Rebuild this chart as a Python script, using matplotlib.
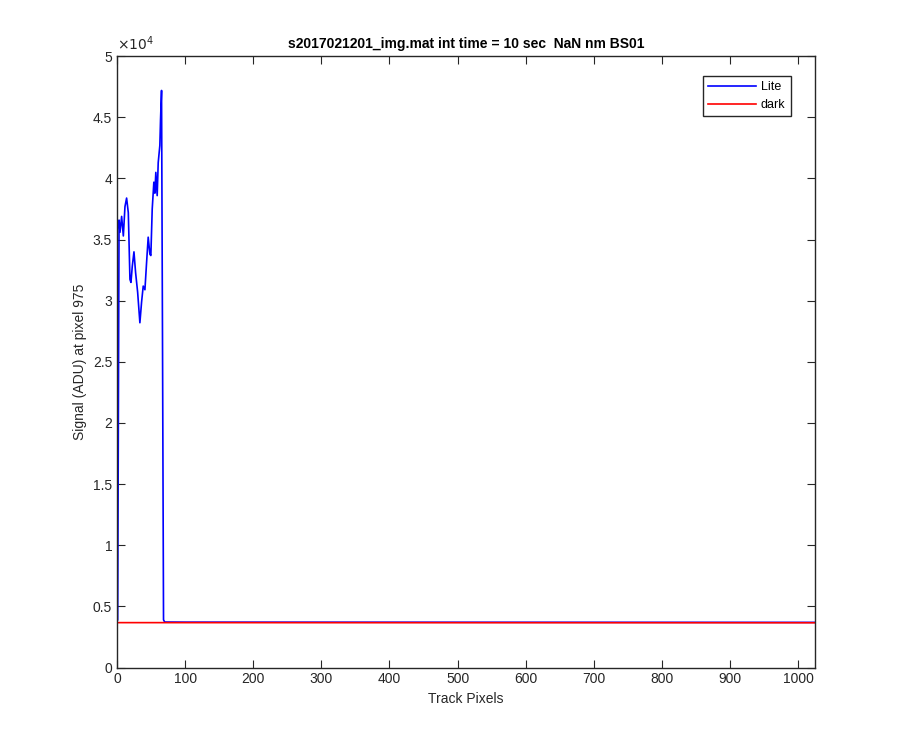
import matplotlib
matplotlib.use("Agg")
import matplotlib.pyplot as plt
from matplotlib.ticker import FuncFormatter, MultipleLocator

plt.rcParams['font.family'] = ['Liberation Sans', 'DejaVu Sans']

# Data
lite_x = [1, 3, 4.4, 6.8, 9.3, 11.7, 14.1, 16.6, 19, 20.5, 22.4, 24.9, 27.3, 30.3, 33.6,
          36.1, 38.5, 41, 43.4, 45.8, 48.3, 49.7, 51.7, 54.1, 55.6, 57, 59, 60.5, 62.9,
          63.9, 65.4, 66.8, 68.3, 70, 100, 1024]
lite_y = [3900, 36600, 35600, 36900, 35300, 37700, 38400, 37200, 31750, 31500, 32800,
          34000, 32300, 30700, 28200, 29900, 31200, 30900, 33100, 35200, 33800, 33700,
          37500, 39700, 38800, 40500, 38600, 41300, 42700, 44800, 47200, 26800, 3900,
          3720, 3710, 3690]
dark_x = [1, 1024]
dark_y = [3670, 3660]

fig = plt.figure(figsize=(9, 7.5), dpi=100)
ax = fig.add_axes([0.13, 0.11, 0.775, 0.815])
ax.plot(lite_x, lite_y, color='#0000ff', lw=1.2, label='Lite')
ax.plot(dark_x, dark_y, color='#ff0000', lw=1.2, label='dark')

ax.set_xlim(0, 1024)
ax.set_ylim(0, 50000)
ax.xaxis.set_major_locator(MultipleLocator(100))
ax.yaxis.set_major_locator(MultipleLocator(5000))
ax.yaxis.set_major_formatter(FuncFormatter(lambda v, p: f"{v/1e4:g}"))

c = '#262626'
for s in ax.spines.values():
    s.set_color(c)
    s.set_linewidth(1.0)
ax.tick_params(direction='in', length=6, width=0.8, colors=c, labelsize=10,
               top=True, right=True, labelcolor=c)
ax.text(0.0, 1.005, r'$\times10^{4}$', transform=ax.transAxes, fontsize=10,
        color=c, ha='left', va='bottom')

ax.set_xlabel('Track Pixels', fontsize=10, color=c)
ax.set_ylabel('Signal (ADU) at pixel 975', fontsize=10, color=c)
ax.set_title('s2017021201_img.mat int time = 10 sec  NaN nm BS01', fontsize=10,
             fontweight='bold', color='black', pad=6)

leg = ax.legend(loc='upper right', bbox_to_anchor=(0.9657, 0.967), borderaxespad=0,
                fancybox=False, edgecolor=c, fontsize=9, handlelength=3.8,
                borderpad=0.4, labelspacing=0.45, handletextpad=0.4, framealpha=1)
leg.get_frame().set_linewidth(1.0)

fig.savefig('out.png', dpi=100, facecolor='white')
